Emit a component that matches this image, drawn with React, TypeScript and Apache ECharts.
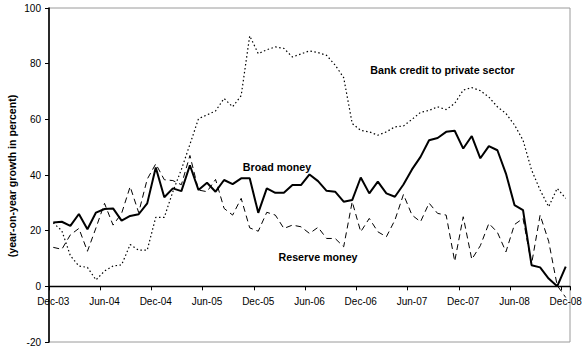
import React, { useEffect, useRef } from "react";
import * as echarts from "echarts";

const months = [
  "Dec-03",
  "Jan-04", "Feb-04", "Mar-04", "Apr-04", "May-04", "Jun-04", "Jul-04", "Aug-04", "Sep-04", "Oct-04", "Nov-04", "Dec-04",
  "Jan-05", "Feb-05", "Mar-05", "Apr-05", "May-05", "Jun-05", "Jul-05", "Aug-05", "Sep-05", "Oct-05", "Nov-05", "Dec-05",
  "Jan-06", "Feb-06", "Mar-06", "Apr-06", "May-06", "Jun-06", "Jul-06", "Aug-06", "Sep-06", "Oct-06", "Nov-06", "Dec-06",
  "Jan-07", "Feb-07", "Mar-07", "Apr-07", "May-07", "Jun-07", "Jul-07", "Aug-07", "Sep-07", "Oct-07", "Nov-07", "Dec-07",
  "Jan-08", "Feb-08", "Mar-08", "Apr-08", "May-08", "Jun-08", "Jul-08", "Aug-08", "Sep-08", "Oct-08", "Nov-08", "Dec-08",
];

const broadMoney = [
  22.9,
  23.2, 21.7, 26, 20.5, 26.5, 27.8, 28, 23.6, 25.3, 25.9, 29.8, 42.7,
  32, 35.2, 34.2, 43.5, 34.6, 37.2, 34, 38.2, 36.7, 38.8, 38.8, 26.4,
  35.2, 33.6, 33.6, 36.4, 36.4, 40.2, 37.8, 34.3, 34, 30.4, 31, 39.1,
  33.4, 37.6, 33.4, 32.2, 36.6, 42, 46.5, 52.5, 53.3, 55.5, 55.9, 49.5,
  54, 46, 50.4, 48.9, 40.5, 29.2, 27.4, 7.6, 6.8, 2.8, 0, 7.1,
];

const reserveMoney = [
  14,
  13.3, 18.5, 20.8, 12.6, 21, 29.8, 22, 26.2, 35.8, 26.5, 38.5, 44,
  38.3, 38, 36.5, 47, 34.6, 34, 38.4, 28, 25.6, 31.6, 21, 19.8,
  26.6, 25.6, 20.8, 22, 21.4, 19, 21.2, 17.2, 17.2, 14.2, 30.4, 19.6,
  24.4, 19.6, 17.8, 23.8, 33, 25.6, 23.2, 29.9, 26.2, 25.6, 9, 25,
  9.7, 14.6, 22.6, 19.4, 12.4, 22.2, 24.4, 8, 25.6, 16.2, 0.3, -4,
];

const bankCredit = [
  22.8,
  20, 11, 7.3, 6.8, 2.3, 5.5, 7.3, 7.7, 15, 13, 13, 24.8,
  24.8, 34, 42, 51, 60.2, 61.6, 63, 67.5, 64.5, 68.5, 90, 83.6,
  85, 86, 85.5, 82.4, 83.5, 84.6, 84, 83, 79.5, 75, 58.5, 56,
  55.5, 54.3, 55.5, 57.3, 57.6, 60, 62.5, 63.2, 64.5, 63.5, 65.7, 70.5,
  71.4, 70.3, 68, 64.5, 62.1, 58, 52.5, 41.8, 34.6, 28.6, 35.2, 31.6,
];

const Y_MIN = -20;
const Y_MAX = 100;
const Y_STEP = 20;

const FONT = "'Liberation Sans', Arial, sans-serif";

const GRID_TOP = 8;
const GRID_BOTTOM = 7;
const CHART_H = 349;

export default function App() {
  const ref = useRef<HTMLDivElement>(null);
  useEffect(() => {
    const chart = echarts.init(ref.current!, null, { renderer: "svg" });
    const plotH = CHART_H - GRID_TOP - GRID_BOTTOM;
    // place the category axis on the zero line
    const zeroOffset = -(plotH * (0 - Y_MIN)) / (Y_MAX - Y_MIN);
    chart.setOption({
      animation: false,
      backgroundColor: "#ffffff",
      grid: {
        left: 49,
        right: 12,
        top: GRID_TOP,
        bottom: GRID_BOTTOM,
        show: true,
        borderColor: "#9a9a9a",
        borderWidth: 1,
        backgroundColor: "transparent",
        containLabel: false,
        outerBoundsMode: "none",
      },
      xAxis: {
        type: "category",
        data: months,
        boundaryGap: true,
        position: "bottom",
        offset: zeroOffset,
        axisLine: { onZero: false, lineStyle: { color: "#000", width: 1.3 } },
        axisTick: { show: true, interval: 5, length: 4, lineStyle: { color: "#000" } },
        axisLabel: {
          interval: 5,
          margin: 10,
          fontSize: 10,
          color: "#000",
          fontFamily: FONT,
          hideOverlap: false,
        },
        splitLine: { show: false },
      },
      yAxis: {
        type: "value",
        min: Y_MIN,
        max: Y_MAX,
        interval: Y_STEP,
        axisLine: { show: true, onZero: false, lineStyle: { color: "#000", width: 1.6 } },
        axisTick: { show: true, length: 4, lineStyle: { color: "#000" } },
        axisLabel: { margin: 8, fontSize: 10, color: "#000", fontFamily: FONT },
        splitLine: { show: false },
      },
      graphic: [
        {
          type: "text",
          x: 12,
          y: 176,
          rotation: Math.PI / 2,
          style: {
            text: "(year-on-year growth in percent)",
            font: `bold 10.6px ${FONT}`,
            fill: "#000",
            textAlign: "center",
            textVerticalAlign: "middle",
          },
        },
        {
          type: "text",
          x: 442.5,
          y: 70,
          style: {
            text: "Bank credit to private sector",
            font: `bold 10.7px ${FONT}`,
            fill: "#000",
            textAlign: "center",
            textVerticalAlign: "middle",
          },
        },
        {
          type: "text",
          x: 277,
          y: 167,
          style: {
            text: "Broad money",
            font: `bold 10.7px ${FONT}`,
            fill: "#000",
            textAlign: "center",
            textVerticalAlign: "middle",
          },
        },
        {
          type: "text",
          x: 318,
          y: 257,
          style: {
            text: "Reserve money",
            font: `bold 10.7px ${FONT}`,
            fill: "#000",
            textAlign: "center",
            textVerticalAlign: "middle",
          },
        },
      ],
      series: [
        {
          name: "Bank credit to private sector",
          type: "line",
          data: bankCredit,
          symbol: "none",
          lineStyle: { color: "#000", width: 1.2, type: [1.5, 2.5] },
          z: 2,
        },
        {
          name: "Reserve money",
          type: "line",
          data: reserveMoney,
          symbol: "none",
          lineStyle: { color: "#000", width: 1, type: [6, 4] },
          z: 3,
        },
        {
          name: "Broad money",
          type: "line",
          data: broadMoney,
          symbol: "none",
          lineStyle: { color: "#000", width: 2 },
          z: 4,
        },
      ],
    });
    return () => chart.dispose();
  }, []);
  return (
    <div
      ref={ref}
      style={{ width: 582, height: 349, position: "absolute", left: 0, top: 0 }}
    />
  );
}
